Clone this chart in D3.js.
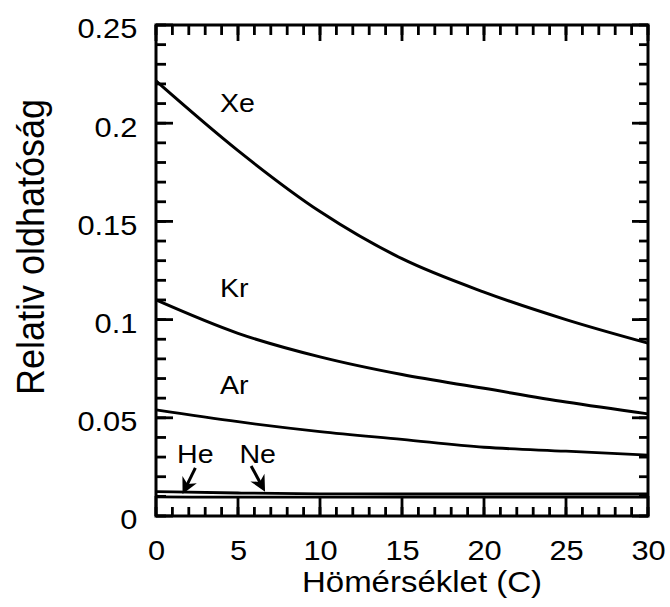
<!DOCTYPE html>
<html>
<head>
<meta charset="utf-8">
<script src="https://cdn.jsdelivr.net/npm/d3@7"></script>
<style>
  body { margin: 0; background: #fff; }
  text { font-family: "Liberation Sans", Arial, Helvetica, sans-serif; fill: #000; }
</style>
</head>
<body>
<svg id="chart" width="670" height="607"></svg>
<script>
// temperature (C) and relative solubility
const temps = [0, 5, 10, 15, 20, 25, 30];
const xe = [0.2215, 0.186, 0.155, 0.131, 0.114, 0.100, 0.088];
const kr = [0.110, 0.093, 0.081, 0.072, 0.065, 0.058, 0.052];
const ar = [0.054, 0.048, 0.043, 0.039, 0.035, 0.033, 0.031];
const ne = [0.0124, 0.0117, 0.0113, 0.0112, 0.0112, 0.0112, 0.0112];
const he = [0.0097, 0.0096, 0.0096, 0.0096, 0.0096, 0.0096, 0.0096];

const xTicks = [0, 5, 10, 15, 20, 25, 30];
const yTicks = [0, 0.05, 0.1, 0.15, 0.2, 0.25];
const yTickLabels = ["0", "0.05", "0.1", "0.15", "0.2", "0.25"];

const xTitle = "Hömérséklet (C)";
const yTitle = "Relativ oldhatóság";

const sx = 1.1; // the scan is a bit wider than tall

const svg = d3.select("#chart");
const x = d3.scaleLinear().domain([0, 30]).range([156, 648]);
const y = d3.scaleLinear().domain([0, 0.25]).range([516, 25]);

const x0 = x(0), x1 = x(30), y0 = y(0), y1 = y(0.25);

// --- frame
svg.append("path")
  .attr("d", `M${x0},${y1}H${x1}V${y0}H${x0}Z`)
  .attr("fill", "none").attr("stroke", "#000").attr("stroke-width", 3);

// --- tick marks, all pointing inwards (minor every 1 C / 0.01, major every 5 C / 0.05)
const yMinor = y.ticks(25), xMinor = x.ticks(30);

function vTicks(vals, len, side) {
  svg.append("g").selectAll("path").data(vals).join("path")
    .attr("d", d => side === "left"
      ? `M${x0},${y(d)}h${len}` : `M${x1},${y(d)}h${-len}`)
    .attr("stroke", "#000").attr("stroke-width", 2.8);
}
function hTicks(vals, len, side) {
  svg.append("g").selectAll("path").data(vals).join("path")
    .attr("d", d => side === "top"
      ? `M${x(d)},${y1}v${len}` : `M${x(d)},${y0}v${-len}`)
    .attr("stroke", "#000").attr("stroke-width", 2.8);
}
vTicks(yMinor, 10, "left");
vTicks(yTicks, 17, "left");
vTicks(yMinor, 9, "right");
vTicks(yTicks, 16, "right");
hTicks(xMinor, 10, "top");
hTicks(xTicks, 16, "top");
hTicks(xMinor, 9, "bottom");
hTicks(xTicks, 20, "bottom");

// --- tick labels
const gy = svg.append("g").attr("transform", `translate(${x0},0)`)
  .call(d3.axisLeft(y).tickValues(yTicks).tickSize(0).tickPadding(17)
    .tickFormat((d, i) => yTickLabels[i]));
gy.select(".domain").remove();
gy.selectAll("text").attr("font-size", 28).attr("font-family", null)
  .attr("dy", "0.46em").attr("transform", `scale(${sx},1)`);

const gx = svg.append("g").attr("transform", `translate(0,${y0})`)
  .call(d3.axisBottom(x).tickValues(xTicks).tickSize(0).tickPadding(24));
gx.select(".domain").remove();
gx.selectAll("text").attr("font-size", 28).attr("font-family", null)
  .attr("transform", `scale(${sx},1)`);

// --- curves
const line = d3.line().x((d, i) => x(temps[i])).y(d => y(d)).curve(d3.curveMonotoneX);
[[xe, 3], [kr, 3], [ar, 2.8], [ne, 2.8], [he, 2.8]].forEach(([s, w]) => {
  svg.append("path").datum(s).attr("d", line)
    .attr("fill", "none").attr("stroke", "#000").attr("stroke-width", w);
});

// --- gas labels
function label(txt, t, v, anchor) {
  svg.append("text")
    .attr("transform", `translate(${x(t)},${y(v)}) scale(${sx},1)`)
    .attr("text-anchor", anchor)
    .attr("font-size", 26)
    .text(txt);
}
label("Xe", 3.9, 0.2057, "start");
label("Kr", 3.9, 0.1115, "start");
label("Ar", 3.9, 0.0621, "start");
label("He", 2.4, 0.027, "middle");
label("Ne", 6.2, 0.027, "middle");

// --- arrows to He and Ne, heads drawn as filled barbs
[[2.4, 0.0245, 1.62, 0.0112], [5.8, 0.0255, 6.65, 0.0124]].forEach(([t0, v0, t1, v1]) => {
  const ax = x(t0), ay = y(v0), bx = x(t1), by = y(v1);
  const L = Math.hypot(bx - ax, by - ay), ux = (bx - ax) / L, uy = (by - ay) / L;
  const hl = 16, hw = 8, notch = 5;
  svg.append("path")
    .attr("d", `M${ax},${ay}L${bx - ux * hl * 0.6},${by - uy * hl * 0.6}`)
    .attr("stroke", "#000").attr("stroke-width", 3).attr("fill", "none");
  svg.append("path")
    .attr("d", `M${bx},${by}` +
      `L${bx - ux * hl - uy * hw},${by - uy * hl + ux * hw}` +
      `L${bx - ux * (hl - notch)},${by - uy * (hl - notch)}` +
      `L${bx - ux * hl + uy * hw},${by - uy * hl - ux * hw}Z`)
    .attr("fill", "#000");
});

// --- axis titles
svg.append("text")
  .attr("transform", `translate(${(x0 + x1) / 2 + 20},592) scale(${sx},1)`)
  .attr("text-anchor", "middle").attr("font-size", 30)
  .text(xTitle);

svg.append("text")
  .attr("transform", `translate(44,247) scale(${sx},1) rotate(-90)`)
  .attr("text-anchor", "middle").attr("font-size", 36)
  .text(yTitle);
</script>
</body>
</html>
